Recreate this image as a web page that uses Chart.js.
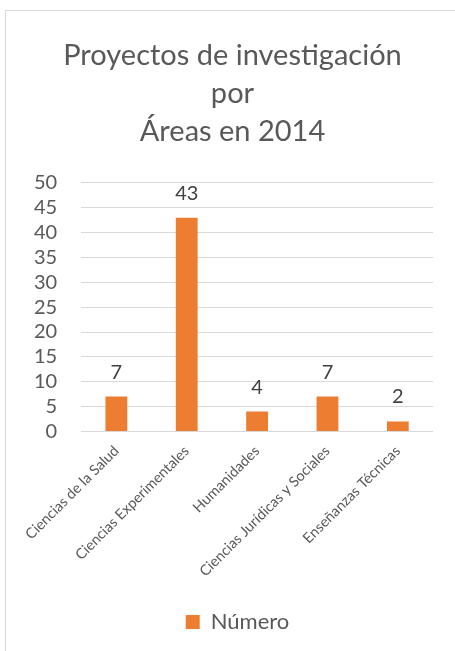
<!DOCTYPE html>
<html>
<head>
<meta charset="utf-8">
<script src="https://cdn.jsdelivr.net/npm/chart.js@4.4.1/dist/chart.umd.min.js"></script>
<style>
  html, body { margin: 0; padding: 0; background: #fff; overflow: hidden; }
  #frame { position: absolute; left: 5px; top: 10px; width: 520px; height: 720px; border: 1px solid #d9d9d9; }
  #wrap { position: absolute; left: 0; top: 0; width: 455px; height: 651px; }
</style>
</head>
<body>
<div id="frame"></div>
<div id="wrap"><canvas id="myChart"></canvas></div>
<script>
// chart data
const areas = ['Ciencias de la Salud', 'Ciencias Experimentales', 'Humanidades', 'Ciencias Jurídicas y Sociales', 'Enseñanzas Técnicas'];
const numero = [7, 43, 4, 7, 2];
const titleLines = ['Proyectos de investigación', 'por', 'Áreas en 2014'];
const seriesName = 'Número';

const FONT = 'Lato, "Open Sans", sans-serif';
const TEXT = '#595959';
const ORANGE = '#ED7D31';

// draws the value above each bar, like Excel data labels
const valueLabels = {
    id: 'valueLabels',
    afterDatasetsDraw(chart) {
        const ctx = chart.ctx;
        const meta = chart.getDatasetMeta(0);
        ctx.save();
        ctx.font = '20px ' + FONT;
        ctx.fillStyle = '#404040';
        ctx.textAlign = 'center';
        ctx.textBaseline = 'alphabetic';
        meta.data.forEach((bar, i) => {
            ctx.fillText(String(chart.data.datasets[0].data[i]), bar.x, bar.y - 18);
        });
        ctx.restore();
    }
};

// the excel chart is wider than the picture, so title and legend sit a bit right of centre
const shiftBlocks = {
    id: 'shiftBlocks',
    afterLayout(chart) {
        if (chart.titleBlock) {
            chart.titleBlock.left += 11;
            chart.titleBlock.right += 11;
        }
        if (chart.legend) {
            chart.legend.left += 16;
            chart.legend.right += 16;
        }
    }
};

function drawChart() {
    try {
        const ctx = document.getElementById('myChart').getContext('2d');
        new Chart(ctx, {
            type: 'bar',
            data: {
                labels: areas,
                datasets: [{
                    label: seriesName,
                    data: numero,
                    backgroundColor: ORANGE,
                    borderWidth: 0,
                    barPercentage: 0.31,
                    categoryPercentage: 1.0
                }]
            },
            options: {
                responsive: true,
                maintainAspectRatio: false,
                animation: false,
                layout: { padding: { left: 10, right: 22, top: 37, bottom: 8 } },
                plugins: {
                    title: {
                        display: true,
                        text: titleLines,
                        color: TEXT,
                        font: { family: FONT, size: 29, weight: 'normal', lineHeight: 1.31 },
                        padding: { top: 0, bottom: 32 }
                    },
                    legend: {
                        position: 'bottom',
                        labels: {
                            color: TEXT,
                            font: { family: FONT, size: 22 },
                            boxWidth: 14,
                            boxHeight: 14,
                            padding: 10
                        }
                    },
                    tooltip: { enabled: false }
                },
                scales: {
                    x: {
                        grid: { display: false },
                        border: { display: false },
                        afterFit(scale) {
                            scale.height += 18;
                        },
                        ticks: {
                            color: TEXT,
                            font: { family: FONT, size: 14.5 },
                            minRotation: 45,
                            maxRotation: 45,
                            autoSkip: false
                        }
                    },
                    y: {
                        min: 0,
                        max: 50,
                        grid: { color: '#d9d9d9', drawTicks: false, lineWidth: 1 },
                        border: { display: false },
                        ticks: {
                            stepSize: 5,
                            autoSkip: false,
                            color: TEXT,
                            font: { family: FONT, size: 20 },
                            padding: 24
                        }
                    }
                }
            },
            plugins: [valueLabels, shiftBlocks]
        });
    } catch (error) {
        console.error('Error drawing chart:', error);
    }
}

drawChart();
</script>
</body>
</html>
